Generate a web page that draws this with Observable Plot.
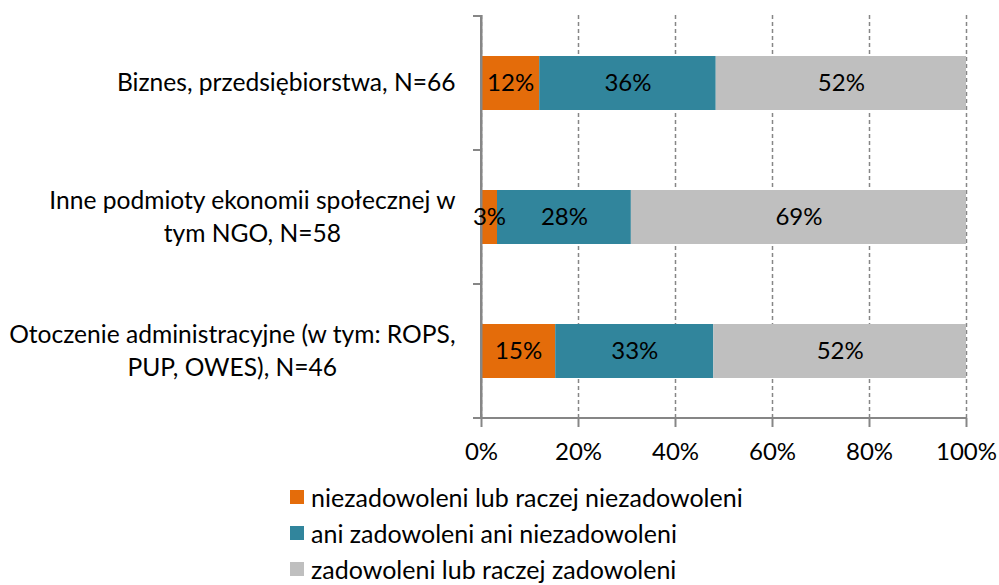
<!DOCTYPE html>
<html>
<head>
<meta charset="utf-8">
<script src="https://cdn.jsdelivr.net/npm/d3@7"></script>
<script src="https://cdn.jsdelivr.net/npm/@observablehq/plot@0.6"></script>
<style>
  html, body { margin: 0; padding: 0; background: #fff; }
  #wrap { position: relative; width: 999px; height: 585px; overflow: hidden; font-family: Lato, "Open Sans", sans-serif; }
  #legend { position: absolute; left: 290px; top: 479px; font-size: 25px; line-height: 1.15; color: #000; }
  #legend .row { display: flex; align-items: center; height: 36px; }
  #legend .sw { width: 14px; height: 14px; margin-right: 7px; }
</style>
</head>
<body>
<div id="wrap"><div id="chart"></div><div id="legend"></div></div>
<script>
const categories = [
  "Biznes, przedsiębiorstwa, N=66",
  "Inne podmioty ekonomii społecznej w\ntym NGO, N=58",
  "Otoczenie administracyjne (w tym: ROPS,\nPUP, OWES), N=46"
];
const seriesNames = [
  "niezadowoleni lub raczej niezadowoleni",
  "ani zadowoleni ani niezadowoleni",
  "zadowoleni lub raczej zadowoleni"
];
const seriesColors = ["#E46C0A", "#31859C", "#BFBFBF"];
const niezadowoleni = [12.0, 3.3, 15.3];
const aniAni = [36.4, 27.6, 32.6];
const zadowoleni = [51.6, 69.1, 52.1];
const xTicks = [0, 20, 40, 60, 80, 100];

const seriesValues = [niezadowoleni, aniAni, zadowoleni];
const data = [];
categories.forEach((c, i) => {
  seriesNames.forEach((s, j) => data.push({category: c, series: s, value: seriesValues[j][i]}));
});

const axisColor = "#868686";
const FS = 24;
const FSY = 24.6;

const chart = Plot.plot({
  width: 999,
  height: 480,
  marginLeft: 481,
  marginRight: 33,
  marginTop: 15,
  marginBottom: 62,
  style: {fontFamily: "Lato, 'Open Sans', sans-serif", fontSize: FS + "px", color: "#000", background: "#fff"},
  x: {domain: [0, 100]},
  y: {domain: categories, paddingInner: 0.6, paddingOuter: 0.3},
  color: {domain: seriesNames, range: seriesColors},
  marks: [
    Plot.gridX(xTicks, {stroke: axisColor, strokeOpacity: 1, strokeWidth: 1.5, strokeDasharray: "4,3"}),
    Plot.barX(data, Plot.stackX({x: "value", y: "category", fill: "series", order: null})),
    Plot.ruleX([0], {stroke: axisColor, strokeWidth: 2}),
    Plot.text(data, Plot.stackX({x: "value", y: "category", z: "series", order: null,
      text: d => Math.round(d.value) + "%", fill: "#000", fontSize: FS})),
    Plot.axisX(xTicks, {tickFormat: d => d + "%", tickSize: 9, tickPadding: 15, stroke: axisColor, strokeWidth: 2, fontSize: FS, fill: "#000", label: null}),
    Plot.axisY({tickSize: 0, tickPadding: 26, dy: -3, fontSize: FSY, fill: "#000", label: null, lineHeight: 1.34, textAnchor: "end"})
  ]
});
document.getElementById("chart").appendChild(chart);

// Excel-style axis lines: category tick marks at band boundaries and baseline
const svg = d3.select(chart);
const xs = chart.scale("x"), ys = chart.scale("y");
const x0 = xs.apply(0), x1 = xs.apply(100);
const step = ys.step, bw = ys.bandwidth;
const bounds = categories.map(c => ys.apply(c) - (step - bw) / 2);
bounds.push(ys.apply(categories[categories.length - 1]) + bw + (step - bw) / 2);
const firstText = svg.select("g[aria-label='text']").node();
const g = svg.insert("g", () => firstText).attr("stroke", axisColor).attr("stroke-width", 2);
bounds.forEach(b => g.append("line").attr("x1", x0 - 8).attr("x2", x0).attr("y1", b).attr("y2", b));
g.append("line").attr("x1", x0 - 8).attr("x2", x1).attr("y1", bounds[bounds.length - 1]).attr("y2", bounds[bounds.length - 1]);
g.append("line").attr("x1", x0).attr("x2", x0).attr("y1", bounds[0]).attr("y2", bounds[bounds.length - 1]);

// center lines within each multi-line category label, block right-aligned
svg.selectAll("g[aria-label='y-axis tick label'] text").each(function() {
  const tspans = d3.select(this).selectAll("tspan");
  if (tspans.size() < 2) return;
  let W = 0;
  tspans.each(function() { W = Math.max(W, this.getComputedTextLength()); });
  const base = +(this.getAttribute("x") || 0);
  d3.select(this).attr("text-anchor", "middle");
  tspans.attr("x", base - W / 2);
});

// legend
const legend = d3.select("#legend");
seriesNames.forEach((s, i) => {
  const row = legend.append("div").attr("class", "row");
  row.append("div").attr("class", "sw").style("background", seriesColors[i]);
  row.append("span").text(s);
});
</script>
</body>
</html>
